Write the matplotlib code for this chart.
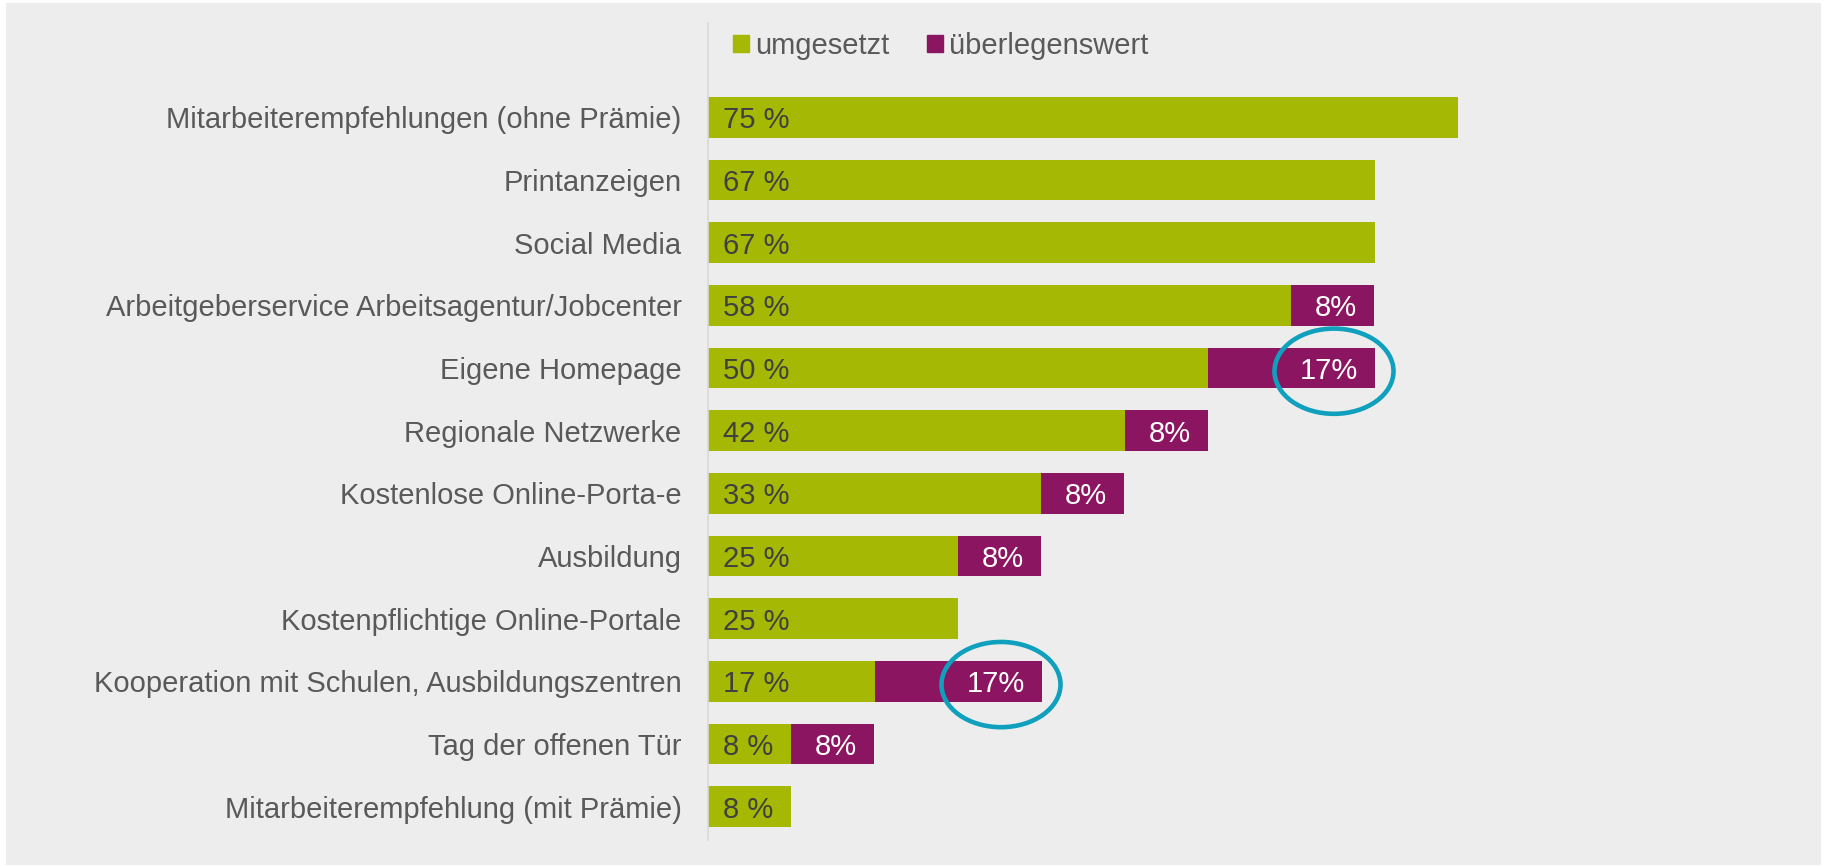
import matplotlib.pyplot as plt
from matplotlib.patches import Rectangle, Ellipse, Patch

categories = [
    "Mitarbeiterempfehlungen (ohne Prämie)",
    "Printanzeigen",
    "Social Media",
    "Arbeitgeberservice Arbeitsagentur/Jobcenter",
    "Eigene Homepage",
    "Regionale Netzwerke",
    "Kostenlose Online-Porta-e",
    "Ausbildung",
    "Kostenpflichtige Online-Portale",
    "Kooperation mit Schulen, Ausbildungszentren",
    "Tag der offenen Tür",
    "Mitarbeiterempfehlung (mit Prämie)",
]
umgesetzt = [75, 66.7, 66.7, 58.3, 50, 41.7, 33.3, 25, 25, 16.7, 8.3, 8.3]
ueberlegenswert = [0, 0, 0, 8.3, 16.7, 8.3, 8.3, 8.3, 0, 16.7, 8.3, 0]
highlighted = ["Eigene Homepage", "Kooperation mit Schulen, Ausbildungszentren"]

GREEN = "#A5B804"
PURPLE = "#8B1560"
TEAL = "#0FA0BD"
BG = "#EDEDED"

plt.rcParams['font.family'] = ['Liberation Sans', 'DejaVu Sans']
W, H = 1825, 866
fig = plt.figure(figsize=(W / 100, H / 100), dpi=100)
fig.patch.set_facecolor("white")
fig.patches.append(Rectangle((6 / W, 1 - 865 / H), (1821 - 6) / W, (865 - 3) / H,
                             transform=fig.transFigure, facecolor=BG, edgecolor="none", zorder=-10))

# axes: x=0 at 708px, 10 px per percent; rows 62.8 px apart
ax = fig.add_axes([708 / W, 1 - 840 / H, (1821 - 708) / W, (840 - 23) / H])
ax.set_facecolor("none")
ax.set_xlim(0, (1821 - 708) / 10)
ax.set_ylim(11.53, -1.506)

y = list(range(len(categories)))
ax.barh(y, umgesetzt, height=0.65, color=GREEN, label="umgesetzt")
ax.barh(y, ueberlegenswert, left=umgesetzt, height=0.65, color=PURPLE, label="überlegenswert")

for i in y:
    ax.annotate(f"{round(umgesetzt[i])} %", (0, i), xytext=(15, 0), textcoords="offset pixels",
                ha="left", va="center_baseline", fontsize=21, color="#404040")
    if ueberlegenswert[i] > 0:
        end = umgesetzt[i] + ueberlegenswert[i]
        ax.annotate(f"{round(ueberlegenswert[i])}%", (end, i), xytext=(-17, 0),
                    textcoords="offset pixels", ha="right", va="center_baseline",
                    fontsize=21, color="white")
    if categories[i] in highlighted:
        end = umgesetzt[i] + ueberlegenswert[i]
        ax.add_patch(Ellipse((end - 4.1, i + 0.05), 11.9, 1.36, fill=False,
                             edgecolor=TEAL, linewidth=3.3, zorder=5, clip_on=False))

ax.set_yticks(y)
ax.set_yticklabels(categories, fontsize=21, color="#595959")
ax.tick_params(axis="y", length=0, pad=19)
ax.set_xticks([])
for s in ["top", "right", "bottom"]:
    ax.spines[s].set_visible(False)
ax.spines["left"].set_color("#D9D9D9")
ax.spines["left"].set_linewidth(1.2)

handles = [Patch(color=GREEN, label="umgesetzt"), Patch(color=PURPLE, label="überlegenswert")]
fig.legend(handles=handles, loc="center left", bbox_to_anchor=(707 / W, 1 - 46 / H), ncol=2,
           frameon=False, fontsize=21, handlelength=0.55, handleheight=0.55, handletextpad=0.2,
           columnspacing=1.3, labelcolor="#595959")

fig.savefig("out.png", dpi=100, facecolor=fig.get_facecolor())
